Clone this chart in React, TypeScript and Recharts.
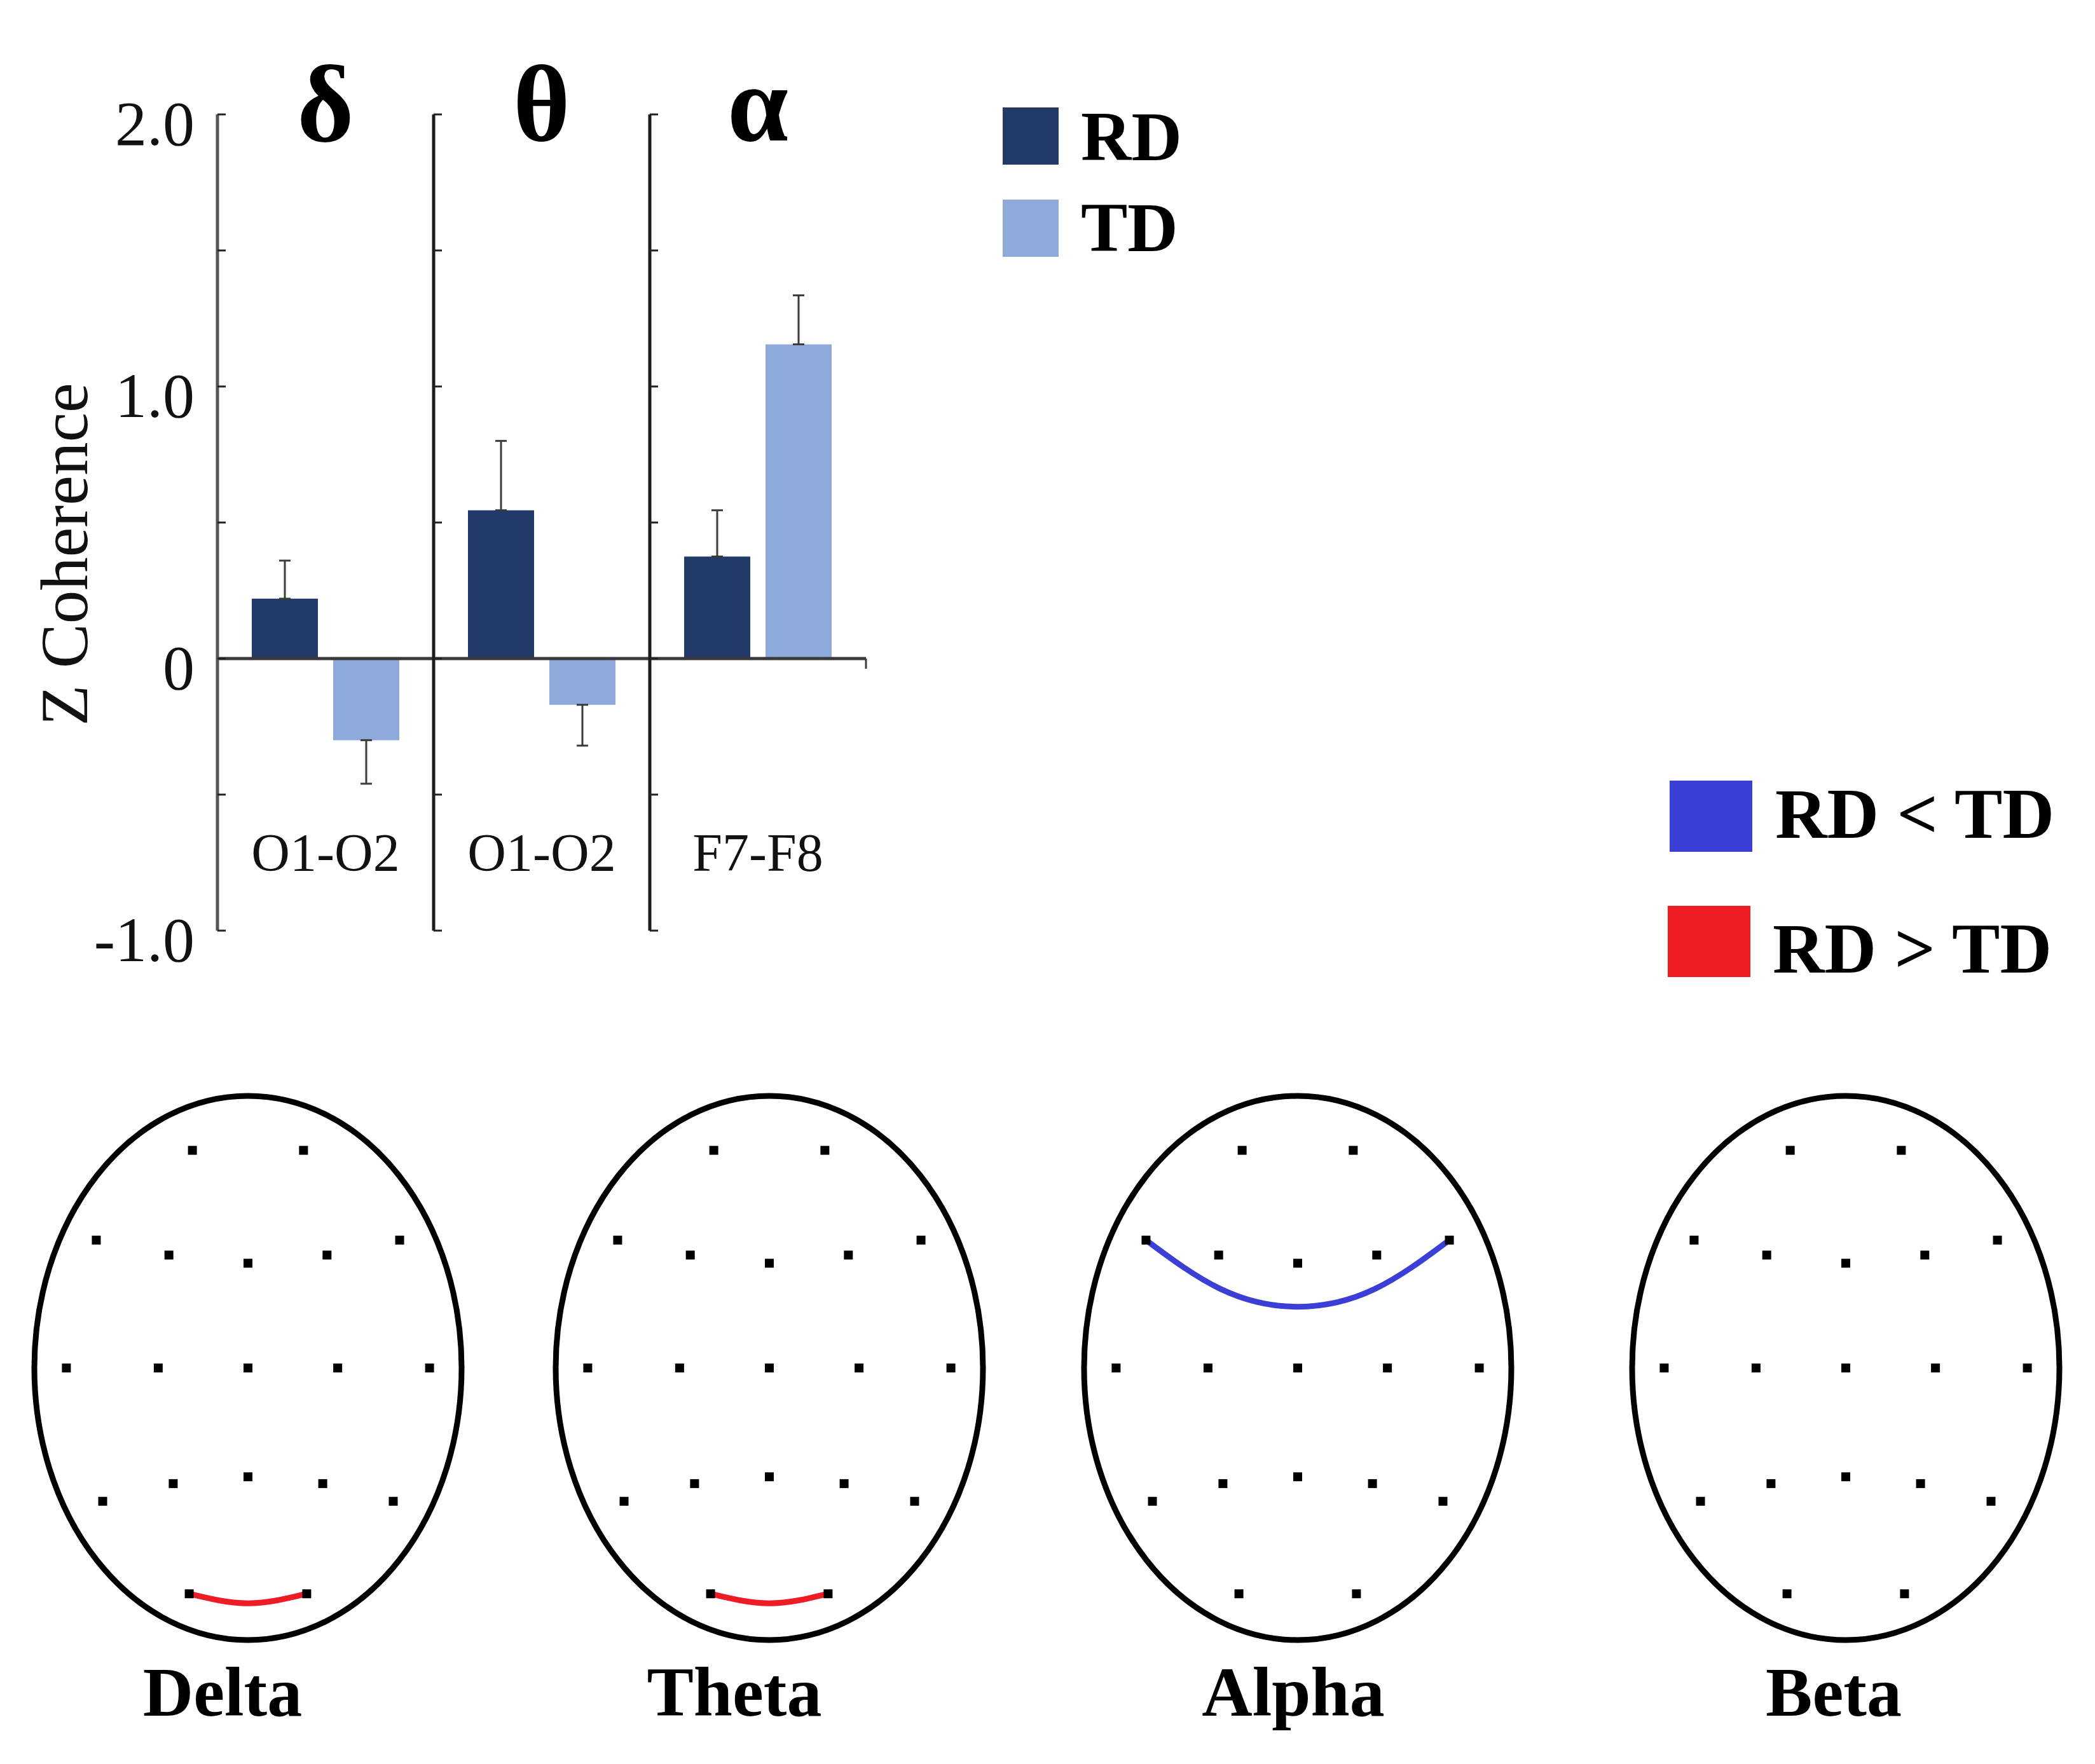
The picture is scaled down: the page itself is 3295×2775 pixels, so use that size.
import React from "react";
import {
  Bar,
  BarChart,
  ComposedChart,
  ErrorBar,
  Legend,
  Line,
  ReferenceArea,
  ReferenceLine,
  Scatter,
  XAxis,
  YAxis,
} from "recharts";

// bar panels: mean Z coherence and error per group
const bands = ["δ", "θ", "α"];
const pairs = ["O1-O2", "O1-O2", "F7-F8"];
const rdMeans = [0.22, 0.545, 0.375];
const tdMeans = [-0.3, -0.17, 1.155];
const rdErrors = [0.14, 0.255, 0.17];
const tdErrors = [0.16, 0.15, 0.18];
const yTicks = [-1, -0.5, 0, 0.5, 1, 1.5, 2];
const groupNames = ["RD", "TD"];
const groupColors = ["#213a68", "#8eaadb"];

// scalp maps (10-20 electrodes, head-normalised coordinates, front = +y)
const headNames = ["Delta", "Theta", "Alpha", "Beta"];
const electrodeNames = [
  "Fp1", "Fp2", "F7", "F3", "Fz", "F4", "F8", "T3", "C3", "Cz",
  "C4", "T4", "T5", "P3", "Pz", "P4", "T6", "O1", "O2",
];
const electrodeX = [
  -0.26, 0.26, -0.71, -0.37, 0, 0.37, 0.71, -0.85, -0.42, 0,
  0.42, 0.85, -0.68, -0.35, 0, 0.35, 0.68, -0.275, 0.275,
];
const electrodeY = [
  0.8, 0.8, 0.47, 0.415, 0.385, 0.415, 0.47, 0, 0, 0,
  0, 0, -0.49, -0.425, -0.4, -0.425, -0.49, -0.83, -0.83,
];
const contrastLabels = ["RD < TD", "RD > TD"];
const contrastColors = ["#3b3fd6", "#ee1c25"];
const headArcContrast = [1, 1, 0, -1];
const headArcX = [
  [-0.275, 0, 0.275],
  [-0.275, 0, 0.275],
  [-0.71, -0.36, 0, 0.36, 0.71],
  [],
];
const headArcY = [
  [-0.83, -0.865, -0.83],
  [-0.83, -0.865, -0.83],
  [0.47, 0.29, 0.225, 0.29, 0.47],
  [],
];

const FONT = '"Liberation Serif", "Times New Roman", serif';
const W = 3295;
const H = 2775;
const BAR_H = 1600;
const AXIS_X = [342, 682, 1022];
const PANEL_W = 340;
const HEAD_CX = [390, 1210, 2041, 2903];
const HEAD_CY = 2152;
const HEAD_RX = 336;
const HEAD_RY = 428;
const HEAD_LABEL_DX = [-40, -55, -7, -19];

const errPair = (v: number, e: number) => (v >= 0 ? [0, e] : [e, 0]);

const makeYTick = (showLabel: boolean) => (props: any) => {
  const { x, y, payload } = props;
  const v = payload.value;
  const text = v === 0 ? "0" : Number.isInteger(v) ? v.toFixed(1) : "";
  return (
    <g>
      <line x1={x} x2={x + 13} y1={y} y2={y} stroke="#222" strokeWidth={3} />
      {showLabel && text && (
        <text x={x - 36} y={y + 48} textAnchor="end" fontSize={100} fontFamily={FONT} fill="#111">
          {text}
        </text>
      )}
    </g>
  );
};

const BandTick = (props: any) => (
  <text
    x={props.x}
    y={props.y + 41}
    textAnchor="middle"
    fontSize={172}
    fontWeight="bold"
    fontFamily={FONT}
    fill="#000"
  >
    {props.payload.value}
  </text>
);

const PairTick = (props: any) => (
  <text x={props.x} y={props.y - 94} textAnchor="middle" fontSize={84} fontFamily={FONT} fill="#111">
    {props.payload.value}
  </text>
);

const GroupLegend = () => (
  <svg width={360} height={300} style={{ display: "block", overflow: "visible" }}>
    {groupNames.map((name, k) => (
      <g key={name}>
        <rect x={0} y={k * 145} width={88} height={90} fill={groupColors[k]} />
        <text x={123} y={83 + k * 143} fontSize={110} fontWeight="bold" fontFamily={FONT} fill="#000">
          {name}
        </text>
      </g>
    ))}
  </svg>
);

const ContrastLegend = () => (
  <svg width={660} height={360} style={{ display: "block", overflow: "visible" }}>
    {contrastLabels.map((label, k) => (
      <g key={label}>
        <rect x={3 - k * 3} y={k * 197} width={130} height={112} fill={contrastColors[k]} />
        <text x={169 - k * 4} y={90 + k * 212} fontSize={113} fontWeight="bold" fontFamily={FONT} fill="#000">
          {label}
        </text>
      </g>
    ))}
  </svg>
);

function BandPanel({ i }: { i: number }) {
  const data = [
    {
      band: bands[i],
      pair: pairs[i],
      RD: rdMeans[i],
      TD: tdMeans[i],
      RDerr: errPair(rdMeans[i], rdErrors[i]),
      TDerr: errPair(tdMeans[i], tdErrors[i]),
    },
  ];
  const first = i === 0;
  const last = i === bands.length - 1;
  const yw = first ? 300 : 20;
  return (
    <div style={{ position: "absolute", left: 0, top: 0 }}>
      <BarChart
        width={W}
        height={BAR_H}
        data={data}
        barGap={24}
        margin={{ top: 150, bottom: BAR_H - 1464 - 40, left: AXIS_X[i] - yw, right: W - AXIS_X[i] - PANEL_W }}
      >
        <XAxis
          xAxisId="band"
          dataKey="band"
          orientation="top"
          height={30}
          axisLine={false}
          tickLine={false}
          tickSize={0}
          tickMargin={0}
          tick={BandTick}
        />
        <XAxis
          xAxisId="pair"
          dataKey="pair"
          height={40}
          axisLine={false}
          tickLine={false}
          tickSize={0}
          tickMargin={0}
          tick={PairTick}
        />
        <YAxis
          yAxisId="v"
          type="number"
          width={yw}
          domain={[-1, 2]}
          ticks={yTicks}
          interval={0}
          tickSize={0}
          tickMargin={0}
          tickLine={false}
          axisLine={{ stroke: first ? "#555" : "#1c1c1c", strokeWidth: 5 }}
          tick={makeYTick(first)}
          label={
            first
              ? (p: any) => {
                  const vb = p.viewBox || { x: 42, y: 180, height: 1284 };
                  const cx = vb.x + 59;
                  const cy = vb.y + vb.height / 2 + 50;
                  return (
                    <text
                      x={cx}
                      y={cy}
                      transform={`rotate(-90, ${cx}, ${cy})`}
                      textAnchor="middle"
                      dominantBaseline="central"
                      fontSize={105}
                      fontFamily={FONT}
                      fill="#111"
                    >
                      Z Coherence
                    </text>
                  );
                }
              : undefined
          }
        />
        {groupNames.map((name, k) => (
          <Bar
            key={name}
            xAxisId="band"
            yAxisId="v"
            dataKey={name}
            name={name}
            fill={groupColors[k]}
            barSize={104}
            isAnimationActive={false}
          >
            <ErrorBar dataKey={`${name}err`} width={9} stroke="#3a3a3a" strokeWidth={3} direction="y" />
          </Bar>
        ))}
        <ReferenceLine
          xAxisId="band"
          yAxisId="v"
          y={0}
          stroke="#3a3a3a"
          strokeWidth={5}
          shape={(p: any) => (
            <g>
              <line x1={p.x1} y1={p.y1} x2={p.x2} y2={p.y2} stroke="#3a3a3a" strokeWidth={5} />
              {last && <line x1={p.x2} y1={p.y2} x2={p.x2} y2={p.y2 + 16} stroke="#3a3a3a" strokeWidth={3} />}
            </g>
          )}
        />
        {last && (
          <Legend
            layout="horizontal"
            verticalAlign="middle"
            align="center"
            content={GroupLegend}
            wrapperStyle={{ left: 1577, top: 169, width: 360, height: 300 }}
          />
        )}
      </BarChart>
    </div>
  );
}

const electrodes = electrodeNames.map((name, k) => ({ name, x: electrodeX[k], y: electrodeY[k] }));

function HeadMap({ i }: { i: number }) {
  const arcIdx = headArcContrast[i];
  const arc = headArcX[i].map((x, k) => ({ x, y: headArcY[i][k] }));
  return (
    <div style={{ position: "absolute", left: 0, top: 0 }}>
      <ComposedChart
        width={W}
        height={H}
        margin={{
          left: HEAD_CX[i] - HEAD_RX,
          right: W - HEAD_CX[i] - HEAD_RX,
          top: HEAD_CY - HEAD_RY,
          bottom: H - HEAD_CY - HEAD_RY,
        }}
      >
        <XAxis type="number" dataKey="x" domain={[-1, 1]} hide />
        <YAxis type="number" dataKey="y" domain={[-1, 1]} hide />
        <ReferenceArea
          x1={-1}
          x2={1}
          y1={-1}
          y2={1}
          shape={(p: any) => (
            <ellipse
              cx={p.x + p.width / 2}
              cy={p.y + p.height / 2}
              rx={p.width / 2}
              ry={p.height / 2}
              fill="none"
              stroke="#000"
              strokeWidth={9}
            />
          )}
          label={(p: any) => {
            const vb = p.viewBox;
            return (
              <text
                x={vb.x + vb.width / 2 + HEAD_LABEL_DX[i]}
                y={vb.y + vb.height + 119}
                textAnchor="middle"
                fontSize={110}
                fontWeight="bold"
                fontFamily={FONT}
                fill="#000"
              >
                {headNames[i]}
              </text>
            );
          }}
        />
        {arcIdx >= 0 && (
          <Line
            data={arc}
            dataKey="y"
            type="natural"
            stroke={contrastColors[arcIdx]}
            strokeWidth={9}
            dot={false}
            activeDot={false}
            isAnimationActive={false}
          />
        )}
        <Scatter
          data={electrodes}
          dataKey="y"
          isAnimationActive={false}
          shape={(p: any) => <rect x={p.cx - 7} y={p.cy - 7} width={14} height={14} fill="#000" />}
        />
        {i === headNames.length - 1 && (
          <Legend
            layout="horizontal"
            verticalAlign="middle"
            align="center"
            content={ContrastLegend}
            wrapperStyle={{ left: 2623, top: 1228, width: 660, height: 360 }}
          />
        )}
      </ComposedChart>
    </div>
  );
}

export default function App() {
  return (
    <div
      style={{
        position: "absolute",
        left: 0,
        top: 0,
        width: W,
        height: H,
        background: "#fff",
        fontFamily: FONT,
        overflow: "hidden",
      }}
    >
      {bands.map((b, i) => (
        <BandPanel key={b} i={i} />
      ))}
      {headNames.map((h, i) => (
        <HeadMap key={h} i={i} />
      ))}
    </div>
  );
}
